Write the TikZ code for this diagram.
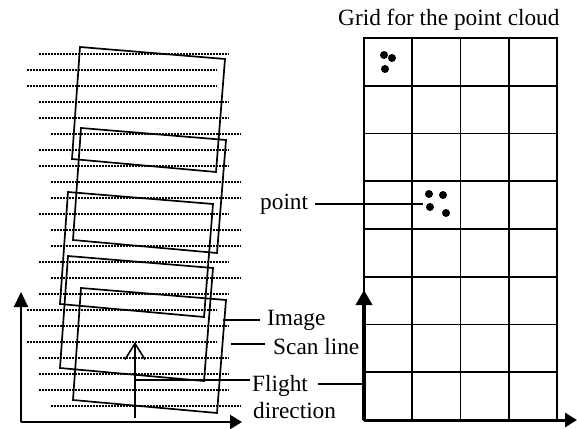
\documentclass[tikz,border=0pt]{standalone}
\usepackage{fontspec}
\setmainfont{Liberation Serif}
\usetikzlibrary{arrows.meta,calc}
\begin{document}
\begin{tikzpicture}[x=1pt,y=-1pt,
  label text/.style={anchor=base west, inner sep=0pt, font=\fontsize{23.3}{28}\selectfont},
  scanline/.style={line width=1.5pt, dash pattern=on 1.6pt off 1.4pt},
  frame/.style={line width=1.7pt, line join=miter},
  gridline/.style={line width=1.9pt},
  leader/.style={line width=1.6pt},
  axis/.style={line width=2.2pt},
  bold axis/.style={line width=3.5pt},
  pt dot/.style={fill=black, circle, inner sep=0pt, minimum size=8pt}
]
\useasboundingbox (0,0) rectangle (577,428);

% scan lines of the strip
\foreach \s [count=\k from 0] in {39,27,27,39,39,51,39,39,51,51,39,51,51,39,51,39,27,39,27,39,39,39,51,39}
  \draw[scanline] (\s,54+16*\k) -- (\s+190,54+16*\k);

% image footprints
\foreach \x/\y in {80/47,81/128,68/192,68/256,81/288}
  \draw[frame] (\x,\y) -- ++(145,12) -- ++(-9,113) -- ++(-144,-13) -- cycle;

% left coordinate axes
\coordinate (L0) at (21,422);
\coordinate (Ly) at (21,292);
\coordinate (Lx) at (242,422);
\draw[axis, -{Triangle[length=15pt,width=14pt]}] (L0) -- (Ly);
\draw[axis, -{Triangle[length=12pt,width=14pt]}] (L0) -- (Lx);

% flight direction arrow
\coordinate (F0) at (135,418);
\coordinate (F1) at (135,342);
\draw[leader, -{Straight Barb[length=16pt,width=20pt]}] (F0) -- (F1);

% grid for the point cloud
\draw[gridline] (364,38) rectangle (557,420);
\foreach \gx in {412.25,460.5,508.75}
  \draw[gridline] (\gx,38) -- (\gx,420);
\foreach \k in {1,...,7}
  \draw[gridline] (364,38+47.75*\k) -- (557,38+47.75*\k);

% right coordinate axes
\coordinate (R0) at (364,420);
\coordinate (Ry) at (364,290);
\coordinate (Rx) at (577,420);
\draw[bold axis, -{Triangle[length=15pt,width=16pt]}] (R0) -- (Ry);
\draw[line width=3pt, -{Triangle[length=12pt,width=14pt]}] (R0) -- (Rx);

% points
\node[pt dot] (a1) at (384,55) {};
\node[pt dot] (a2) at (392,58) {};
\node[pt dot] (a3) at (385,69) {};
\node[pt dot] (b1) at (429,194) {};
\node[pt dot] (b2) at (443,195) {};
\node[pt dot] (b3) at (430,207) {};
\node[pt dot] (b4) at (446,213) {};

% labels
\node[label text] (title) at (338,26) {Grid for the point cloud};
\node[label text] (point) at (260,209) {point};
\node[label text] (image) at (267,325) {Image};
\node[label text] (scan) at (273,354) {Scan line};
\node[label text] (flight) at (252,391) {Flight};
\node[label text] (dir) at (253,418) {direction};

% leader lines
\coordinate (pB) at (423,204);
\draw[leader] ($(point.east |- pB)+(7,0)$) -- (pB);
\coordinate (iA) at (223,320);
\draw[leader] (iA) -- ($(image.west |- iA)+(-7,0)$);
\coordinate (sA) at (231,344);
\draw[leader] (sA) -- ($(scan.west |- sA)+(-8,0)$);
\coordinate (fA) at (135,380);
\draw[leader] (fA) -- ($(flight.west |- fA)+(-2,0)$);
\coordinate (fB) at (363,384);
\draw[leader] ($(flight.east |- fB)+(10,0)$) -- (fB);
\end{tikzpicture}
\end{document}
